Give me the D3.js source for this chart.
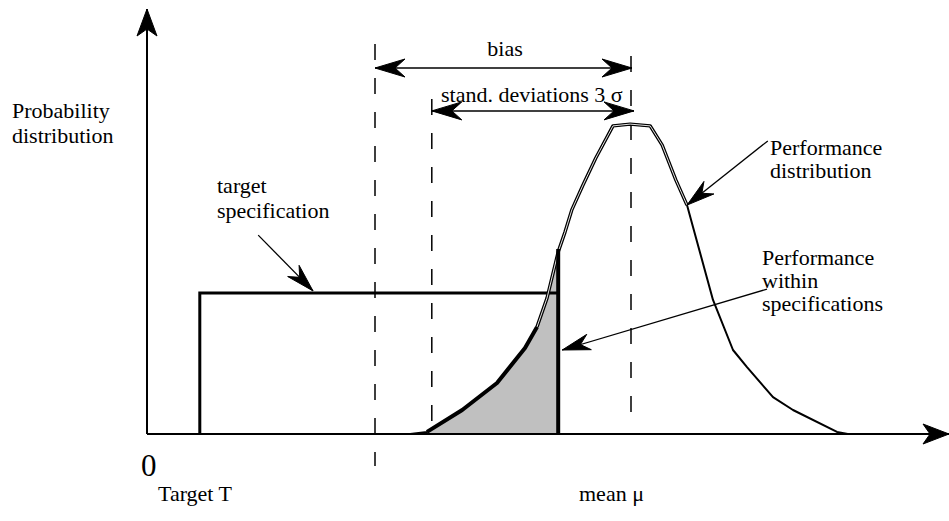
<!DOCTYPE html>
<html>
<head>
<meta charset="utf-8">
<script src="https://cdn.jsdelivr.net/npm/d3@7"></script>
<style>
  html, body { margin: 0; padding: 0; background: #fff; }
  svg { display: block; }
  text { font-family: "Liberation Serif", "Times New Roman", serif; fill: #000; }
</style>
</head>
<body>
<svg id="chart" width="949" height="521"></svg>
<script>
// ---------------- data (diagram units) ----------------
// performance distribution outline: x position, density
const curveX = [32.9, 35, 39.4, 43.75, 47.25, 48.75, 50, 51.4, 52.25, 53.1, 54.5, 56.1, 58.25, 60.4, 62.9, 64.4, 66.1, 67.5, 68.25, 70.75, 73.25, 75, 78.25, 80.75, 86.25, 87.6];
const curveY = [0, 0.7, 8, 17, 28.7, 35.7, 45.3, 60.7, 67.3, 74.7, 83, 92, 102.7, 103.3, 102.7, 96.3, 84.7, 76.3, 69, 44.7, 28, 22.3, 12.3, 8, 0.7, 0];

// target specification window
const specLower = 6.6;
const specUpper = 51.4;
const specHeight = 47;

// reference positions
const targetT = 28.5;
const sigmaLeft = 35.6;
const meanMu = 60.5;
const biasLevel = 122;
const sigmaLevel = 107.7;

// labels
const yLabel = ["Probability", "distribution"];
const specLabel = ["target", "specification"];
const perfLabel = ["Performance", "distribution"];
const withinLabel = ["Performance", "within", "specifications"];
const biasLabel = "bias";
const sigmaLabel = "stand. deviations 3 σ";
const targetLabel = "Target T";
const meanLabel = "mean μ";
const originLabel = "0";

// ---------------- scales ----------------
const svg = d3.select("#chart");
const x = d3.scaleLinear().domain([0, 100]).range([147, 947]);
const y = d3.scaleLinear().domain([0, 100]).range([434, 134]);

const pts = curveX.map((v, i) => [v, curveY[i]]);
const line = d3.line().x(d => x(d[0])).y(d => y(d[1]));

// arrowhead helper (barbed, filled)
function arrowHead(g, x1, y1, x2, y2, L, W, N) {
  const dx = x2 - x1, dy = y2 - y1, len = Math.hypot(dx, dy);
  const ux = dx / len, uy = dy / len, nx = -uy, ny = ux;
  const p = [
    [x2, y2],
    [x2 - L * ux + W * nx, y2 - L * uy + W * ny],
    [x2 - N * ux, y2 - N * uy],
    [x2 - L * ux - W * nx, y2 - L * uy - W * ny]
  ];
  g.append("path").attr("d", "M" + p.map(d => d.join(",")).join("L") + "Z")
    .attr("fill", "#000").attr("stroke", "#000").attr("stroke-width", 1).attr("stroke-linejoin", "miter");
}
function arrow(g, x1, y1, x2, y2, w, L, W, N, both) {
  g.append("line").attr("x1", x1).attr("y1", y1).attr("x2", x2).attr("y2", y2)
    .attr("stroke", "#000").attr("stroke-width", w);
  arrowHead(g, x1, y1, x2, y2, L, W, N);
  if (both) arrowHead(g, x2, y2, x1, y1, L, W, N);
}

const g = svg.append("g");

// shaded area (performance within specifications)
const shaded = pts.filter(d => d[0] >= 35 && d[0] <= specUpper);
const area = d3.area().x(d => x(d[0])).y0(y(0)).y1(d => y(d[1]));
g.append("path").datum(shaded).attr("d", area).attr("fill", "#c0c0c0");

// dashed reference lines
const dash = "16,18";
g.append("line").attr("x1", x(targetT)).attr("x2", x(targetT)).attr("y1", 44).attr("y2", 466)
  .attr("stroke", "#000").attr("stroke-width", 1.5).attr("stroke-dasharray", dash);
g.append("line").attr("x1", x(sigmaLeft)).attr("x2", x(sigmaLeft)).attr("y1", y(sigmaLevel) - 12).attr("y2", y(0))
  .attr("stroke", "#000").attr("stroke-width", 1.5).attr("stroke-dasharray", dash);
g.append("line").attr("x1", x(meanMu)).attr("x2", x(meanMu)).attr("y1", 56).attr("y2", 430)
  .attr("stroke", "#000").attr("stroke-width", 1.5).attr("stroke-dasharray", dash);

// axes
arrow(g, x(0), y(0), x(0), 9, 2, 27, 10, 20, false);
arrow(g, x(0), y(0), 949, y(0), 2, 26, 10, 19, false);

// target specification window
g.append("path")
  .attr("d", `M${x(specLower)},${y(0)}V${y(specHeight)}H${x(specUpper)}`)
  .attr("fill", "none").attr("stroke", "#000").attr("stroke-width", 3).attr("stroke-linejoin", "miter");

// performance distribution curve (double line effect)
const upper = pts.filter(d => d[0] >= 48.75 && d[0] <= 67.5);
g.append("path").datum(pts).attr("d", line)
  .attr("fill", "none").attr("stroke", "#000").attr("stroke-width", 2).attr("stroke-linejoin", "round");
g.append("path").datum(upper).attr("d", line)
  .attr("fill", "none").attr("stroke", "#000").attr("stroke-width", 3.4).attr("stroke-linejoin", "round");
g.append("path").datum(upper).attr("d", line)
  .attr("fill", "none").attr("stroke", "#fff").attr("stroke-width", 0.9).attr("stroke-linejoin", "round");
g.append("path").datum(pts.filter(d => d[0] >= 35 && d[0] <= 48.75)).attr("d", line)
  .attr("fill", "none").attr("stroke", "#000").attr("stroke-width", 4).attr("stroke-linejoin", "round");

// upper spec limit bold line
g.append("line").attr("x1", x(specUpper)).attr("x2", x(specUpper)).attr("y1", y(60.7) - 3).attr("y2", y(0))
  .attr("stroke", "#000").attr("stroke-width", 4);

// bias and sigma arrows
arrow(g, x(targetT), y(biasLevel), x(meanMu) + 1, y(biasLevel), 1.5, 30, 9, 20, true);
arrow(g, x(sigmaLeft), y(sigmaLevel), x(meanMu) + 3, y(sigmaLevel), 1.5, 30, 9, 20, true);

// annotation arrows
arrow(g, x(77.6), y(97.7), x(67.5), y(76.3), 1.3, 28, 8, 19, false);
arrow(g, x(77.5), y(48.3), x(51.9), y(28), 1.3, 28, 8, 19, false);
arrow(g, x(13.9), y(66.3), x(20.75), y(47.7), 1.3, 28, 8, 19, false);

// ---------------- text ----------------
function lines(arr, tx, ty, dy, anchor) {
  const t = g.append("text").attr("font-size", 22).attr("text-anchor", anchor || "start");
  arr.forEach((s, i) => t.append("tspan").attr("x", tx).attr("y", ty + i * dy).text(s));
}
lines(yLabel, 12, 118, 25);
lines(specLabel, 217, 193, 25);
lines(perfLabel, 770, 155, 23);
lines(withinLabel, 762, 265, 23);
g.append("text").attr("x", 505).attr("y", 56).attr("font-size", 22).attr("text-anchor", "middle").text(biasLabel);
g.append("text").attr("x", 441).attr("y", 102).attr("font-size", 22).text(sigmaLabel);
g.append("text").attr("x", 158).attr("y", 501).attr("font-size", 22).text(targetLabel);
g.append("text").attr("x", 579).attr("y", 501).attr("font-size", 22).text(meanLabel);
g.append("text").attr("x", 141).attr("y", 476).attr("font-size", 31).text(originLabel);
</script>
</body>
</html>
